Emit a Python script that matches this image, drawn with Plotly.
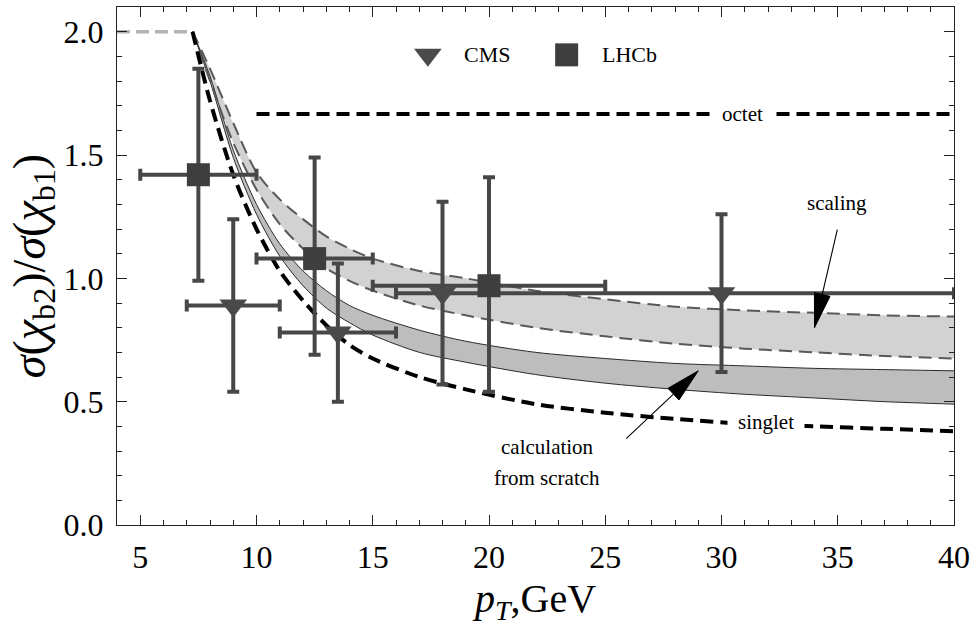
import plotly.graph_objects as go

# ---------------- data ----------------
x_curve = [7.25, 8, 9, 10, 11, 12, 13, 14, 15, 17, 19, 22, 25, 28, 31, 34, 37, 40]
singlet = [2.0, 1.72, 1.42, 1.2, 1.03, 0.91, 0.81, 0.73, 0.675, 0.6, 0.55, 0.49, 0.455, 0.43, 0.41, 0.40, 0.39, 0.38]
scratch_upper = [2.0, 1.82, 1.52, 1.3, 1.14, 1.03, 0.95, 0.89, 0.85, 0.79, 0.745, 0.70, 0.675, 0.655, 0.645, 0.635, 0.63, 0.625]
scratch_lower = [2.0, 1.80, 1.49, 1.26, 1.09, 0.97, 0.88, 0.82, 0.77, 0.70, 0.66, 0.61, 0.575, 0.55, 0.53, 0.515, 0.50, 0.49]
scaling_upper = [2.0, 1.85, 1.63, 1.43, 1.32, 1.24, 1.17, 1.12, 1.08, 1.03, 1.0, 0.95, 0.915, 0.885, 0.87, 0.86, 0.85, 0.845]
scaling_lower = [2.0, 1.80, 1.55, 1.36, 1.22, 1.12, 1.04, 0.99, 0.95, 0.89, 0.85, 0.80, 0.765, 0.735, 0.715, 0.70, 0.685, 0.675]
flat_x = [4, 7.25]
flat_y = [2.0, 2.0]
octet_x = [10, 40]
octet_y = [5 / 3, 5 / 3]

cms_x = [9, 13.5, 18, 30]
cms_y = [0.89, 0.78, 0.94, 0.94]
cms_x_lo = [7, 11, 16, 20]
cms_x_hi = [11, 16, 20, 40]
cms_y_lo = [0.54, 0.50, 0.57, 0.62]
cms_y_hi = [1.24, 1.06, 1.31, 1.26]

lhcb_x = [7.5, 12.5, 20]
lhcb_y = [1.42, 1.08, 0.97]
lhcb_x_lo = [5, 10, 15]
lhcb_x_hi = [10, 15, 25]
lhcb_y_lo = [0.99, 0.69, 0.54]
lhcb_y_hi = [1.85, 1.49, 1.41]

x_ticks = [5, 10, 15, 20, 25, 30, 35, 40]
y_ticks = [0.0, 0.5, 1.0, 1.5, 2.0]

# ---------------- style ----------------
FONT = '"Liberation Serif", "Times New Roman", Times, serif'
XR = [4, 40]
YR = [0, 2.1]
W, H = 979, 635
ML, MR, MT, MB = 117, 25, 7, 110
PW = W - ML - MR
PH = H - MT - MB

fig = go.Figure()

SPL = dict(shape="spline", smoothing=0.8)
# scaling band (light)
fig.add_trace(go.Scatter(x=x_curve, y=scaling_lower, mode="lines", line=dict(width=0, **SPL),
                         hoverinfo="skip", showlegend=False))
fig.add_trace(go.Scatter(x=x_curve, y=scaling_upper, mode="lines", line=dict(width=0, **SPL),
                         fill="tonexty", fillcolor="#d2d2d2", hoverinfo="skip", showlegend=False))
# scratch band (dark)
fig.add_trace(go.Scatter(x=x_curve, y=scratch_lower, mode="lines",
                         line=dict(width=1, color="#2a2a2a", **SPL), hoverinfo="skip", showlegend=False))
fig.add_trace(go.Scatter(x=x_curve, y=scratch_upper, mode="lines",
                         line=dict(width=1, color="#2a2a2a", **SPL),
                         fill="tonexty", fillcolor="#bdbdbd", hoverinfo="skip", showlegend=False))
# scaling band dashed edges
for yy in (scaling_upper, scaling_lower):
    fig.add_trace(go.Scatter(x=x_curve, y=yy, mode="lines",
                             line=dict(width=2, color="#595959", dash="13px,7px", **SPL),
                             hoverinfo="skip", showlegend=False))
# flat part
fig.add_trace(go.Scatter(x=flat_x, y=flat_y, mode="lines",
                         line=dict(width=3.5, color="#b4b4b4", dash="13px,6px"),
                         hoverinfo="skip", showlegend=False))
# singlet & octet
fig.add_trace(go.Scatter(x=x_curve, y=singlet, mode="lines",
                         line=dict(width=4, color="black", dash="13px,7px", **SPL),
                         hoverinfo="skip", showlegend=False))
fig.add_trace(go.Scatter(x=octet_x, y=octet_y, mode="lines",
                         line=dict(width=4, color="black", dash="13px,7px"),
                         hoverinfo="skip", showlegend=False))

EB = "#474747"


def errs(v, lo, hi):
    return [h - c for c, h in zip(v, hi)], [c - l for c, l in zip(v, lo)]


cxp, cxm = errs(cms_x, cms_x_lo, cms_x_hi)
cyp, cym = errs(cms_y, cms_y_lo, cms_y_hi)
lxp, lxm = errs(lhcb_x, lhcb_x_lo, lhcb_x_hi)
lyp, lym = errs(lhcb_y, lhcb_y_lo, lhcb_y_hi)

fig.add_trace(go.Scatter(
    x=cms_x, y=cms_y, mode="markers", name="CMS",
    marker=dict(symbol="triangle-down", size=24, color="#4a4a4a", line=dict(width=0)),
    error_x=dict(type="data", symmetric=False, array=cxp, arrayminus=cxm, color=EB, thickness=4, width=6),
    error_y=dict(type="data", symmetric=False, array=cyp, arrayminus=cym, color=EB, thickness=4, width=6),
    showlegend=False))
fig.add_trace(go.Scatter(
    x=lhcb_x, y=lhcb_y, mode="markers", name="LHCb",
    marker=dict(symbol="square", size=23, color="#3e3e3e", line=dict(width=0)),
    error_x=dict(type="data", symmetric=False, array=lxp, arrayminus=lxm, color=EB, thickness=4, width=6),
    error_y=dict(type="data", symmetric=False, array=lyp, arrayminus=lym, color=EB, thickness=4, width=6),
    showlegend=False))

# legend (drawn manually)
LEG_Y = 1.906
fig.add_trace(go.Scatter(x=[17.37], y=[LEG_Y], mode="markers", hoverinfo="skip", showlegend=False,
                         marker=dict(symbol="triangle-down", size=24, color="#4a4a4a")))
fig.add_trace(go.Scatter(x=[23.34], y=[LEG_Y], mode="markers", hoverinfo="skip", showlegend=False,
                         marker=dict(symbol="square", size=23, color="#3e3e3e")))

tfont = dict(family=FONT, size=22, color="black")
ann = []
ann.append(dict(x=19.9, y=LEG_Y, text="CMS", xanchor="center", yanchor="middle", showarrow=False, font=tfont))
ann.append(dict(x=26.05, y=LEG_Y, text="LHCb", xanchor="center", yanchor="middle", showarrow=False, font=tfont))

afont = dict(family=FONT, size=21, color="black")
ann.append(dict(x=30.9, y=5 / 3, text="octet", showarrow=False, font=afont, bgcolor="white", borderpad=9))
ann.append(dict(x=31.9, y=0.418, text="singlet", showarrow=False, font=afont, bgcolor="white", borderpad=10))
ann.append(dict(x=34.98, y=1.306, text="scaling", showarrow=False, font=afont))
ann.append(dict(x=22.5, y=0.316, text="calculation", showarrow=False, font=afont))
ann.append(dict(x=22.5, y=0.19, text="from scratch", showarrow=False, font=afont))


# arrows (pixel geometry -> data coords)
def to_px(x, y):
    return ML + (x - XR[0]) / (XR[1] - XR[0]) * PW, MT + (YR[1] - y) / (YR[1] - YR[0]) * PH


def to_data(px, py):
    return XR[0] + (px - ML) / PW * (XR[1] - XR[0]), YR[1] - (py - MT) / PH * (YR[1] - YR[0])


shapes = []


def arrow(tail, tip, length=34, half=8):
    tx, ty = to_px(*tail)
    hx, hy = to_px(*tip)
    dx, dy = hx - tx, hy - ty
    n = (dx * dx + dy * dy) ** 0.5
    ux, uy = dx / n, dy / n
    bx, by = hx - ux * length, hy - uy * length
    p1 = to_data(bx - uy * half, by + ux * half)
    p2 = to_data(bx + uy * half, by - ux * half)
    b = to_data(bx, by)
    shapes.append(dict(type="line", xref="x", yref="y", x0=tail[0], y0=tail[1], x1=b[0], y1=b[1],
                       line=dict(color="black", width=1.1)))
    shapes.append(dict(type="path", xref="x", yref="y",
                       path=f"M{tip[0]},{tip[1]} L{p1[0]},{p1[1]} L{p2[0]},{p2[1]} Z",
                       fillcolor="black", line=dict(color="black", width=1)))


arrow((34.98, 1.197), (34.0, 0.80))
arrow((25.9, 0.35), (29.0, 0.625))

axis_common = dict(
    showgrid=False, zeroline=False, showline=True, linecolor="#222", linewidth=1,
    mirror="allticks", ticks="inside", ticklen=10, tickwidth=1, tickcolor="#222",
    tickfont=dict(family=FONT, size=32, color="black"),
)

fig.update_layout(
    width=W, height=H,
    margin=dict(l=ML, r=MR, t=MT, b=MB),
    plot_bgcolor="white", paper_bgcolor="white",
    showlegend=False,
    font=dict(family=FONT),
    annotations=ann,
    shapes=shapes,
    xaxis=dict(range=XR, tickvals=x_ticks, ticktext=[str(v) for v in x_ticks],
               minor=dict(dtick=1, ticks="inside", ticklen=5, tickcolor="#222"),
               title=dict(text="<i>p</i><sub><i>T</i></sub>,GeV", font=dict(family=FONT, size=40, color="black"),
                          standoff=9),
               ticklabelstandoff=4,
               **axis_common),
    yaxis=dict(range=YR, tickvals=y_ticks, ticktext=[f"{v:.1f}" for v in y_ticks],
               minor=dict(dtick=0.1, tick0=0, ticks="inside", ticklen=5, tickcolor="#222"),
               title=dict(text="<i>σ</i>(<i>χ</i><sub>b2</sub>)/<i>σ</i>(<i>χ</i><sub>b1</sub>)",
                          font=dict(family=FONT, size=46, color="black"), standoff=3),
               ticklabelstandoff=6,
               **axis_common),
)
fig.update_xaxes(automargin=False)
fig.update_yaxes(automargin=False)

fig.write_html("out.html")
